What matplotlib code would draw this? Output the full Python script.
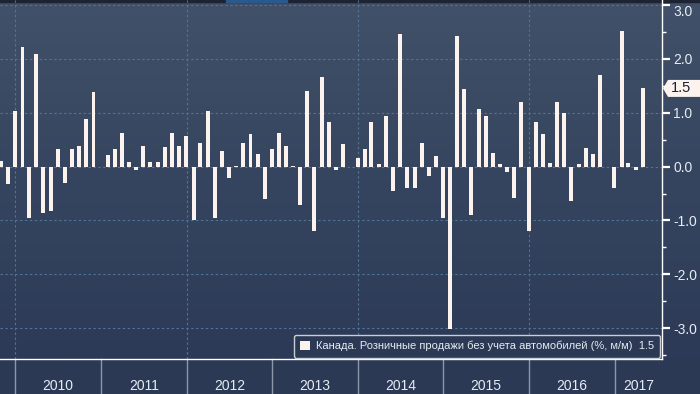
import matplotlib.pyplot as plt
import matplotlib.transforms as mtransforms
from matplotlib.colors import LinearSegmentedColormap
from matplotlib.patches import Rectangle, Polygon
import numpy as np
import pandas as pd

plt.rcParams['font.family'] = ['Liberation Sans', 'DejaVu Sans']

# monthly values, Oct 2009 .. Apr 2017 (% m/m)
months = pd.date_range('2009-10-31', '2017-04-30', freq='ME')
values = [0.11, -0.33, 1.04,
          2.22, -0.95, 2.09, -0.87, -0.82, 0.32, -0.31, 0.33, 0.39, 0.89, 1.39, -0.01,
          0.22, 0.32, 0.63, 0.09, -0.06, 0.39, 0.09, 0.09, 0.37, 0.63, 0.39, 0.56,
          -1.0, 0.43, 1.04, -0.96, 0.28, -0.22, 0.01, 0.43, 0.61, 0.24, -0.61, 0.33,
          0.63, 0.39, 0.01, -0.72, 1.41, -1.2, 1.67, 0.83, -0.06, 0.41, 0.0, 0.15,
          0.32, 0.82, 0.04, 0.93, -0.46, 2.45, -0.39, -0.39, 0.43, -0.17, 0.2, -0.96,
          -3.02, 2.43, 1.43, -0.89, 1.06, 0.93, 0.26, 0.04, -0.11, -0.59, 1.2, -1.2,
          0.82, 0.61, 0.06, 1.19, 1.0, -0.63, 0.04, 0.35, 0.24, 1.69, -0.01, -0.39,
          2.52, 0.06, -0.07, 1.45]
years = list(range(2010, 2018))
grid_years = [2010, 2012, 2014, 2016]
yticks = [-3, -2, -1, 0, 1, 2, 3]
last_label = '1.5'
series_name = 'Канада. Розничные продажи без учета автомобилей (%, м/м)'

bar_c = '#fdf3ee'
text_c = '#e6ecf3'
grid_c = '#4f7494'
band_c = '#2b3955'

fig = plt.figure(figsize=(7, 3.94), dpi=100)

# background
bg = fig.add_axes([0, 0, 1, 1], zorder=0)
grad = np.linspace(0, 1, 256).reshape(-1, 1)
cmap = LinearSegmentedColormap.from_list('bg', ['#415169', '#36455f', '#2c3a57'])
bg.imshow(grad, aspect='auto', cmap=cmap, extent=[0, 1, 35 / 394, 1])
bg.add_patch(Rectangle((0, 0), 1, 35 / 394, color=band_c))
bg.add_patch(Rectangle((0, 1 - 2 / 394), 1, 2 / 394, color='#1d2331'))
bg.add_patch(Rectangle((226 / 700, 1 - 2 / 394), 61 / 700, 2 / 394, color='#2a5a8c'))
bg.set_xlim(0, 1)
bg.set_ylim(0, 1)
bg.axis('off')

ax = fig.add_axes([0, 35 / 394, 662 / 700, 359 / 394], zorder=1)
ax.patch.set_alpha(0)

ax.bar(months, values, width=17, color=bar_c, zorder=3,
       label=series_name + '  ' + last_label)

ax.set_xlim(pd.Timestamp('2009-10-27'), pd.Timestamp('2017-07-22'))
ax.set_ylim(-3.57, 3.09)

for y in yticks:
    ax.axhline(y, color=grid_c, lw=0.8, ls=(0, (2.2, 2.2)), zorder=1)
for yr in grid_years:
    ax.axvline(pd.Timestamp(f'{yr}-01-01'), color=grid_c, lw=0.8, ls=(0, (2.2, 2.2)), zorder=1)

# spines
for s in ['left', 'top']:
    ax.spines[s].set_visible(False)
for s in ['right', 'bottom']:
    ax.spines[s].set_color('white')
    ax.spines[s].set_linewidth(1)

# y axis on the right
ax.yaxis.tick_right()
ax.set_yticks(yticks)
ax.set_yticklabels([f'{v:.1f}' for v in yticks])
ax.set_yticks(np.arange(-3.5, 3.1, 1.0), minor=True)
ax.tick_params(axis='y', which='major', length=6, width=1.6, color='white',
               labelcolor=text_c, labelsize=10, pad=2)
ax.tick_params(axis='y', which='minor', length=3, width=1, color='white')
ax.get_yticklabels()[-1].set_va('top')

# x axis: year bands
ax.set_xticks([])
trans = mtransforms.blended_transform_factory(ax.transData, ax.transAxes)
xmax = ax.get_xlim()[1]
for yr in years:
    start = pd.Timestamp(f'{yr}-01-01')
    ax.plot([start, start], [0, -35 / 359], transform=trans, clip_on=False,
            color='#8e97a8', lw=1)
    x0 = ax.convert_xunits(start)
    x1 = min(ax.convert_xunits(pd.Timestamp(f'{yr + 1}-01-01')), xmax)
    ax.text((x0 + x1) / 2, -0.074, str(yr), transform=trans, ha='center', va='center',
            color=text_c, fontsize=10)

# legend
leg = ax.legend(loc='lower right', bbox_to_anchor=(0.997, 0.004), borderaxespad=0,
                fontsize=8, facecolor=band_c, edgecolor='#c9ced6', framealpha=1,
                labelcolor=text_c, handlelength=0.9, handleheight=0.9,
                handletextpad=0.5, borderpad=0.55, fancybox=True)
leg.get_frame().set_linewidth(1)
leg.set_zorder(6)

# last value tag
anchor_t = mtransforms.blended_transform_factory(ax.transAxes, ax.transData)
ax_pt = anchor_t.transform((1, values[-1]))
verts = ax_pt + np.array([[1, 0], [6, 8.5], [40, 8.5], [40, -8.5], [6, -8.5]])
fig.add_artist(Polygon(verts, closed=True, fc=bar_c, ec='none',
                       transform=mtransforms.IdentityTransform()))
fig.text(ax_pt[0] + 9, ax_pt[1], last_label, transform=mtransforms.IdentityTransform(),
         ha='left', va='center', color='#1a2233', fontsize=10.5)

fig.savefig('out.png', dpi=100)
